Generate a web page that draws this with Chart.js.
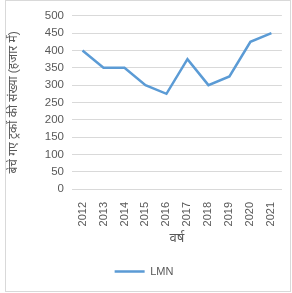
<!DOCTYPE html>
<html>
<head>
<meta charset="utf-8">
<script src="https://cdn.jsdelivr.net/npm/chart.js@4/dist/chart.umd.min.js"></script>
<style>
  body { margin: 0; background: #fff; }
  #frame {
    position: absolute; left: 5px; top: 0px;
    width: 284px; height: 290px;
    border: 1px solid #d9d9d9;
  }
</style>
</head>
<body>
<div id="frame"><canvas id="chart" width="284" height="290"></canvas></div>
<script>
// Data
const years = ['2012', '2013', '2014', '2015', '2016', '2017', '2018', '2019', '2020', '2021']
const lmnValues = [400, 350, 350, 300, 275, 375, 300, 325, 425, 450]
const seriesName = 'LMN'
const yTitle = 'बेचे गए ट्रकों की संख्या (हजार में)'
const xTitle = 'वर्ष'

const textColor = '#595959'
const gridColor = '#d9d9d9'
const fontFamily = "'Liberation Sans', 'Noto Sans', sans-serif"

new Chart(document.getElementById('chart'), {
  type: 'line',
  data: {
    labels: years,
    datasets: [{
      label: seriesName,
      data: lmnValues,
      borderColor: '#5b9bd5',
      backgroundColor: '#5b9bd5',
      borderWidth: 2.5,
      pointRadius: 0,
      tension: 0
    }]
  },
  options: {
    responsive: false,
    animation: false,
    layout: { padding: { left: 0, right: 8, top: 8, bottom: 4 } },
    plugins: {
      legend: {
        position: 'bottom',
        labels: {
          color: textColor,
          font: { family: fontFamily, size: 11 },
          boxWidth: 30,
          boxHeight: 0,
          padding: 10
        }
      },
      tooltip: { enabled: false }
    },
    scales: {
      x: {
        offset: true,
        grid: { display: false },
        border: { color: gridColor },
        ticks: {
          color: textColor,
          font: { family: fontFamily, size: 11 },
          maxRotation: 90,
          minRotation: 90,
          padding: 5
        },
        title: {
          display: true,
          text: xTitle,
          color: textColor,
          font: { family: fontFamily, size: 13 },
          padding: { top: 2, bottom: 10 }
        },
        afterFit: (scale) => { scale.height = 67 }
      },
      y: {
        min: 0,
        max: 500,
        ticks: {
          stepSize: 50,
          color: textColor,
          font: { family: fontFamily, size: 11.5 },
          padding: 8
        },
        grid: { color: gridColor, drawTicks: false },
        border: { display: false },
        title: {
          display: true,
          text: yTitle,
          color: textColor,
          font: { family: fontFamily, size: 12 },
          padding: { top: 0, bottom: 0 }
        },
        afterFit: (scale) => { scale.width = 66 }
      }
    }
  }
})
</script>
</body>
</html>
